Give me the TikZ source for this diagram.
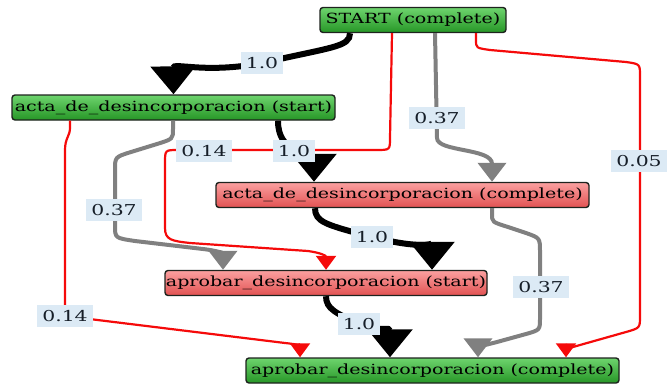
\documentclass[tikz,border=0pt]{standalone}
\usepackage{fontspec}
\setmainfont{DejaVu Serif}[FakeStretch=1.36]
\usetikzlibrary{arrows.meta,calc}

\definecolor{boxline}{RGB}{30,35,30}
\definecolor{grtop}{RGB}{110,212,110}
\definecolor{grbot}{RGB}{38,150,38}
\definecolor{rdtop}{RGB}{250,160,160}
\definecolor{rdbot}{RGB}{225,82,82}
\definecolor{lblfill}{RGB}{220,234,245}
\definecolor{lbltext}{RGB}{22,30,40}
\definecolor{edgegray}{RGB}{128,128,128}
\definecolor{edgered}{RGB}{245,10,10}

\tikzset{
  act/.style={draw=boxline, line width=1.4pt, rounded corners=3pt,
    minimum height=25pt, inner sep=0pt, font=\fontsize{14}{16}\selectfont,
    text=black},
  green act/.style={act, top color=grtop, bottom color=grbot},
  red act/.style={act, top color=rdtop, bottom color=rdbot},
  lbl/.style={fill=lblfill, text=lbltext, inner xsep=5pt, inner ysep=5.5pt,
    font=\fontsize{15}{17}\selectfont},
  blk/.style={line width=6pt, black, -{Triangle[length=28pt,width=44pt]}},
  gry/.style={line width=4pt, edgegray, -{Triangle[length=19pt,width=28pt]}},
  rd/.style={line width=2.2pt, edgered, -{Triangle[length=14pt,width=20pt]}},
}

\begin{document}
\begin{tikzpicture}[x=1pt,y=-1pt]
\useasboundingbox (0,0) rectangle (668,388);

% activities
\node[green act, minimum width=186pt] (st) at (413,20) {START (complete)};
\node[green act, minimum width=323pt] (as) at (173.5,107.5) {acta\_de\_desincorporacion (start)};
\node[red act, minimum width=373pt] (ac) at (402.5,195) {acta\_de\_desincorporacion (complete)};
\node[red act, minimum width=322pt] (ps) at (326,283) {aprobar\_desincorporacion (start)};
\node[green act, minimum width=373pt] (pc) at (432.5,370.5) {aprobar\_desincorporacion (complete)};

% label anchors
\coordinate (c1) at (262,63);
\coordinate (c2) at (204,151);
\coordinate (c3) at (294,151);
\coordinate (c4) at (437,118);
\coordinate (c5) at (639,161);
\coordinate (c6) at (114,210);
\coordinate (c7) at (65,316);
\coordinate (c8) at (372,237);
\coordinate (c9) at (541,287);
\coordinate (c10) at (359,324);

% transitions
\draw[rd] ([xshift=-21pt]st.south) -- (390,138) .. controls (390,150) .. (376,150)
  -- (178,150) .. controls (165,150) .. (165,163) -- (165,228)
  .. controls (165,240) and (172,241) .. (190,243) -- (308,251)
  .. controls (322,253) and (326,256) .. (ps.north);
\draw[rd] ([xshift=63pt]st.south) -- (476,40) .. controls (476,48) .. (490,50)
  -- (626,62) .. controls (640,64) .. (640,76) -- (640,316)
  .. controls (640,328) .. (626,332) -- (580,345)
  .. controls (569,348) and (566,350) .. ([xshift=133.5pt]pc.north);
\draw[rd] ([xshift=-103.5pt]as.south) -- (70,128) .. controls (70,136) and (65,138) .. (65,150)
  -- (c7) -- (285,343) .. controls (296,344) and (300,346) .. ([xshift=-132.5pt]pc.north);
\draw[gry] ([xshift=22pt]st.south) -- (437,138) .. controls (437,152) and (492,148) .. ([xshift=89.5pt]ac.north);
\draw[gry] ([xshift=-0.5pt]as.south) -- (173,129) .. controls (173,139) .. (157,144)
  -- (131,152) .. controls (115,157) .. (115,170) -- (115,226)
  .. controls (115,238) .. (135,241) -- (203,249)
  .. controls (220,251) and (223,254) .. ([xshift=-103pt]ps.north);
\draw[gry] ([xshift=89.5pt]ac.south) -- (492,214) .. controls (492,222) .. (508,227)
  -- (526,233) .. controls (540,238) .. (540,252) -- (540,318)
  .. controls (540,330) .. (526,334) -- (497,342)
  .. controls (481,346) and (478,348) .. ([xshift=45.5pt]pc.north);
\draw[blk] ([xshift=-63pt]st.south) .. controls (350,47) and (332,47) .. (c1)
  .. controls (205,74) and (173,62) .. (as.north);
\draw[blk] ([xshift=104.5pt]as.south) .. controls (278,136) and (284,143) .. (c3)
  .. controls (306,160) and (314,158) .. ([xshift=-88.5pt]ac.north);
\draw[blk] ([xshift=-87.5pt]ac.south) .. controls (315,222) and (326,225) .. (c8)
  .. controls (420,249) and (432,244) .. ([xshift=106pt]ps.north);
\draw[blk] (ps.south) .. controls (326,309) and (336,313) .. (c10)
  .. controls (382,333) and (390,326) .. ([xshift=-42.5pt]pc.north);

% transition labels
\node[lbl] (l1) at (c1) {1.0};
\node[lbl] (l2) at (c2) {0.14};
\node[lbl] (l3) at (c3) {1.0};
\node[lbl] (l4) at (c4) {0.37};
\node[lbl] (l5) at (c5) {0.05};
\node[lbl] (l6) at (c6) {0.37};
\node[lbl] (l7) at (c7) {0.14};
\node[lbl] (l8) at (c8) {1.0};
\node[lbl] (l9) at (c9) {0.37};
\node[lbl] (l10) at (c10) {1.0};
\end{tikzpicture}
\end{document}
